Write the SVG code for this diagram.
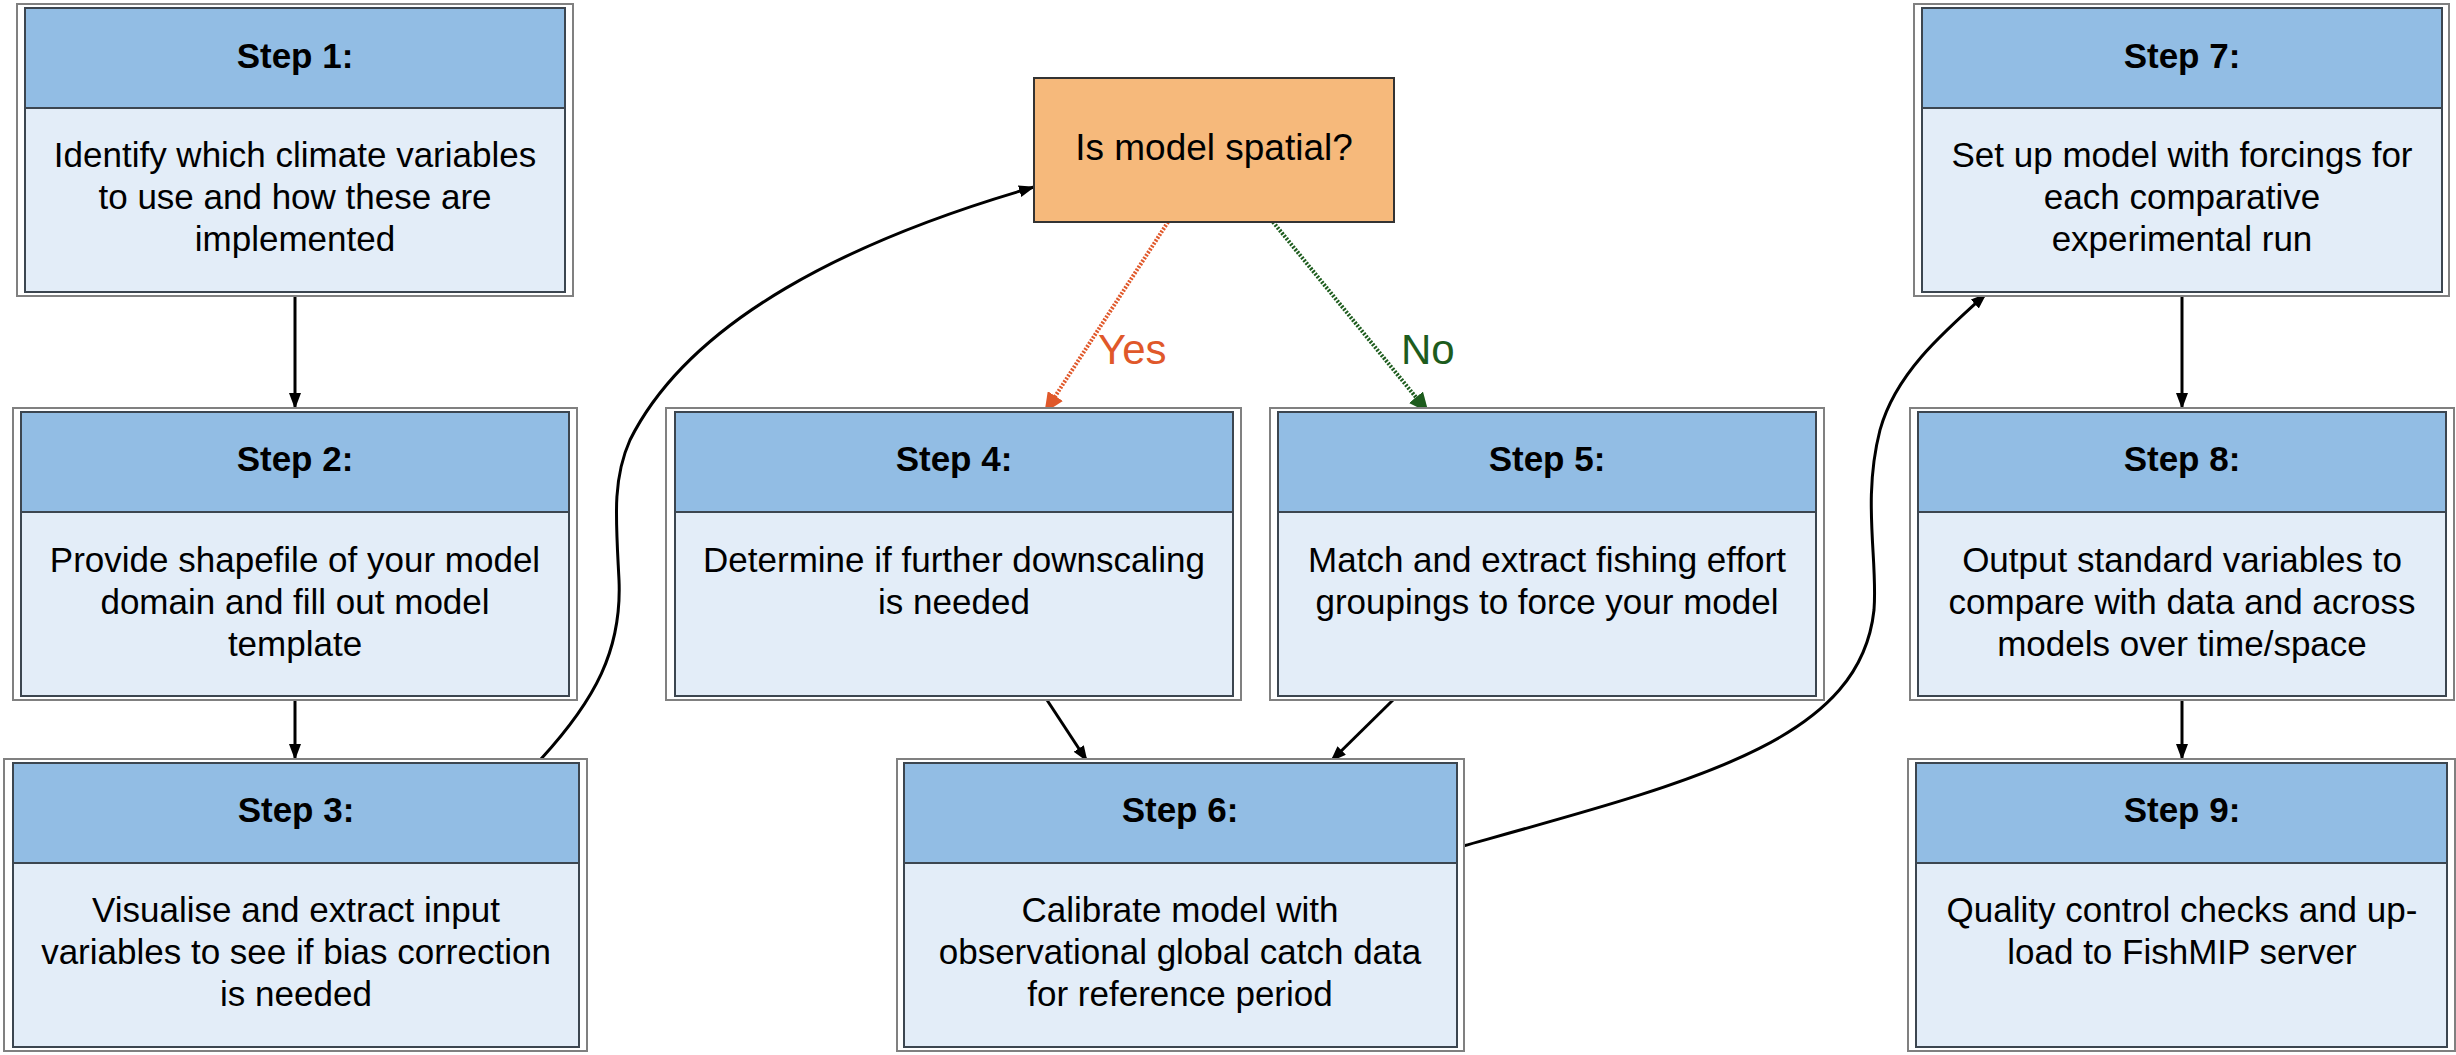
<svg xmlns="http://www.w3.org/2000/svg" width="2456" height="1055" viewBox="0 0 2456 1055">
<style>
.frame{fill:#ffffff;stroke:#808080;stroke-width:2}
.hdr{fill:#92bde4;stroke:#3c4650;stroke-width:2}
.bdy{fill:#e3edf8;stroke:#3c4650;stroke-width:2}
.title{font-family:"Liberation Sans",Arial,sans-serif;font-weight:bold;font-size:35px;text-anchor:middle;fill:#000}
.txt{font-family:"Liberation Sans",Arial,sans-serif;font-size:35px;text-anchor:middle;fill:#000}
.dec{fill:#f6b97b;stroke:#333333;stroke-width:2}
.conn{fill:none;stroke:#000;stroke-width:3}
.yes{fill:none;stroke:#e0582a;stroke-width:4;stroke-dasharray:2 1.5}
.no{fill:none;stroke:#1d5c1d;stroke-width:4;stroke-dasharray:2 1.5}
.lbl{font-family:"Liberation Sans",Arial,sans-serif;font-size:42px}
</style>
<defs>
<marker id="ah" markerUnits="userSpaceOnUse" markerWidth="16" markerHeight="12" refX="15" refY="6" orient="auto">
<path d="M0,0 L16,6 L0,12 z" fill="#000"/>
</marker>
<marker id="ahy" markerUnits="userSpaceOnUse" markerWidth="20" markerHeight="18" refX="19" refY="9" orient="auto">
<path d="M0,0 L20,9 L0,18 z" fill="#e0582a"/>
</marker>
<marker id="ahn" markerUnits="userSpaceOnUse" markerWidth="20" markerHeight="18" refX="19" refY="9" orient="auto">
<path d="M0,0 L20,9 L0,18 z" fill="#1d5c1d"/>
</marker>
</defs>
<rect x="0" y="0" width="2456" height="1055" fill="#ffffff"/>

<g id="connectors">
<path class="conn" d="M295,296 L295,408" marker-end="url(#ah)"/>
<path class="conn" d="M295,700 L295,759" marker-end="url(#ah)"/>
<path class="conn" d="M541,759 C595,700 622,650 619,580 C616,520 612,480 630,440 C690,320 850,240 1034,187" marker-end="url(#ah)"/>
<path class="yes" d="M1168,222 L1045,412" marker-end="url(#ahy)"/>
<path class="no" d="M1273,222 L1428,412" marker-end="url(#ahn)"/>
<path class="conn" d="M1047,700 L1087,761" marker-end="url(#ah)"/>
<path class="conn" d="M1393,700 L1331,761" marker-end="url(#ah)"/>
<path class="conn" d="M1463,846 C1700,780 1860,740 1874,610 C1878,560 1862,500 1880,430 C1895,375 1940,335 1986,294" marker-end="url(#ah)"/>
<path class="conn" d="M2182,296 L2182,408" marker-end="url(#ah)"/>
<path class="conn" d="M2182,700 L2182,759" marker-end="url(#ah)"/>
<text class="lbl" x="1098" y="364" fill="#e0582a">Yes</text>
<text class="lbl" x="1401" y="364" fill="#1d5c1d">No</text>
</g>

<g id="decision">
<rect class="dec" x="1034" y="78" width="360" height="144"/>
<text class="txt" x="1214" y="160" style="font-size:37px">Is model spatial?</text>
</g>

<g id="step1">
<rect class="frame" x="17" y="4" width="556" height="292"/>
<rect class="hdr" x="25" y="8" width="540" height="100"/>
<rect class="bdy" x="25" y="108" width="540" height="184"/>
<text class="title" x="295" y="68">Step 1:</text>
<text class="txt" x="295" y="167"><tspan x="295">Identify which climate variables</tspan><tspan x="295" dy="42">to use and how these are</tspan><tspan x="295" dy="42">implemented</tspan></text>
</g>

<g id="step2">
<rect class="frame" x="13" y="408" width="564" height="292"/>
<rect class="hdr" x="21" y="412" width="548" height="100"/>
<rect class="bdy" x="21" y="512" width="548" height="184"/>
<text class="title" x="295" y="471">Step 2:</text>
<text class="txt" x="295" y="572"><tspan x="295">Provide shapefile of your model</tspan><tspan x="295" dy="42">domain and fill out model</tspan><tspan x="295" dy="42">template</tspan></text>
</g>

<g id="step3">
<rect class="frame" x="4" y="759" width="583" height="292"/>
<rect class="hdr" x="13" y="763" width="566" height="100"/>
<rect class="bdy" x="13" y="863" width="566" height="184"/>
<text class="title" x="296" y="822">Step 3:</text>
<text class="txt" x="296" y="922"><tspan x="296">Visualise and extract input</tspan><tspan x="296" dy="42">variables to see if bias correction</tspan><tspan x="296" dy="42">is needed</tspan></text>
</g>

<g id="step4">
<rect class="frame" x="666" y="408" width="575" height="292"/>
<rect class="hdr" x="675" y="412" width="558" height="100"/>
<rect class="bdy" x="675" y="512" width="558" height="184"/>
<text class="title" x="954" y="471">Step 4:</text>
<text class="txt" x="954" y="572"><tspan x="954">Determine if further downscaling</tspan><tspan x="954" dy="42">is needed</tspan></text>
</g>

<g id="step5">
<rect class="frame" x="1270" y="408" width="554" height="292"/>
<rect class="hdr" x="1278" y="412" width="538" height="100"/>
<rect class="bdy" x="1278" y="512" width="538" height="184"/>
<text class="title" x="1547" y="471">Step 5:</text>
<text class="txt" x="1547" y="572"><tspan x="1547">Match and extract fishing effort</tspan><tspan x="1547" dy="42">groupings to force your model</tspan></text>
</g>

<g id="step6">
<rect class="frame" x="897" y="759" width="567" height="292"/>
<rect class="hdr" x="904" y="763" width="553" height="100"/>
<rect class="bdy" x="904" y="863" width="553" height="184"/>
<text class="title" x="1180" y="822">Step 6:</text>
<text class="txt" x="1180" y="922"><tspan x="1180">Calibrate model with</tspan><tspan x="1180" dy="42">observational global catch data</tspan><tspan x="1180" dy="42">for reference period</tspan></text>
</g>

<g id="step7">
<rect class="frame" x="1914" y="4" width="535" height="292"/>
<rect class="hdr" x="1922" y="8" width="520" height="100"/>
<rect class="bdy" x="1922" y="108" width="520" height="184"/>
<text class="title" x="2182" y="68">Step 7:</text>
<text class="txt" x="2182" y="167"><tspan x="2182">Set up model with forcings for</tspan><tspan x="2182" dy="42">each comparative</tspan><tspan x="2182" dy="42">experimental run</tspan></text>
</g>

<g id="step8">
<rect class="frame" x="1910" y="408" width="544" height="292"/>
<rect class="hdr" x="1918" y="412" width="528" height="100"/>
<rect class="bdy" x="1918" y="512" width="528" height="184"/>
<text class="title" x="2182" y="471">Step 8:</text>
<text class="txt" x="2182" y="572"><tspan x="2182">Output standard variables to</tspan><tspan x="2182" dy="42">compare with data and across</tspan><tspan x="2182" dy="42">models over time/space</tspan></text>
</g>

<g id="step9">
<rect class="frame" x="1908" y="759" width="547" height="292"/>
<rect class="hdr" x="1916" y="763" width="531" height="100"/>
<rect class="bdy" x="1916" y="863" width="531" height="184"/>
<text class="title" x="2182" y="822">Step 9:</text>
<text class="txt" x="2182" y="922"><tspan x="2182">Quality control checks and up-</tspan><tspan x="2182" dy="42">load to FishMIP server</tspan></text>
</g>
</svg>
